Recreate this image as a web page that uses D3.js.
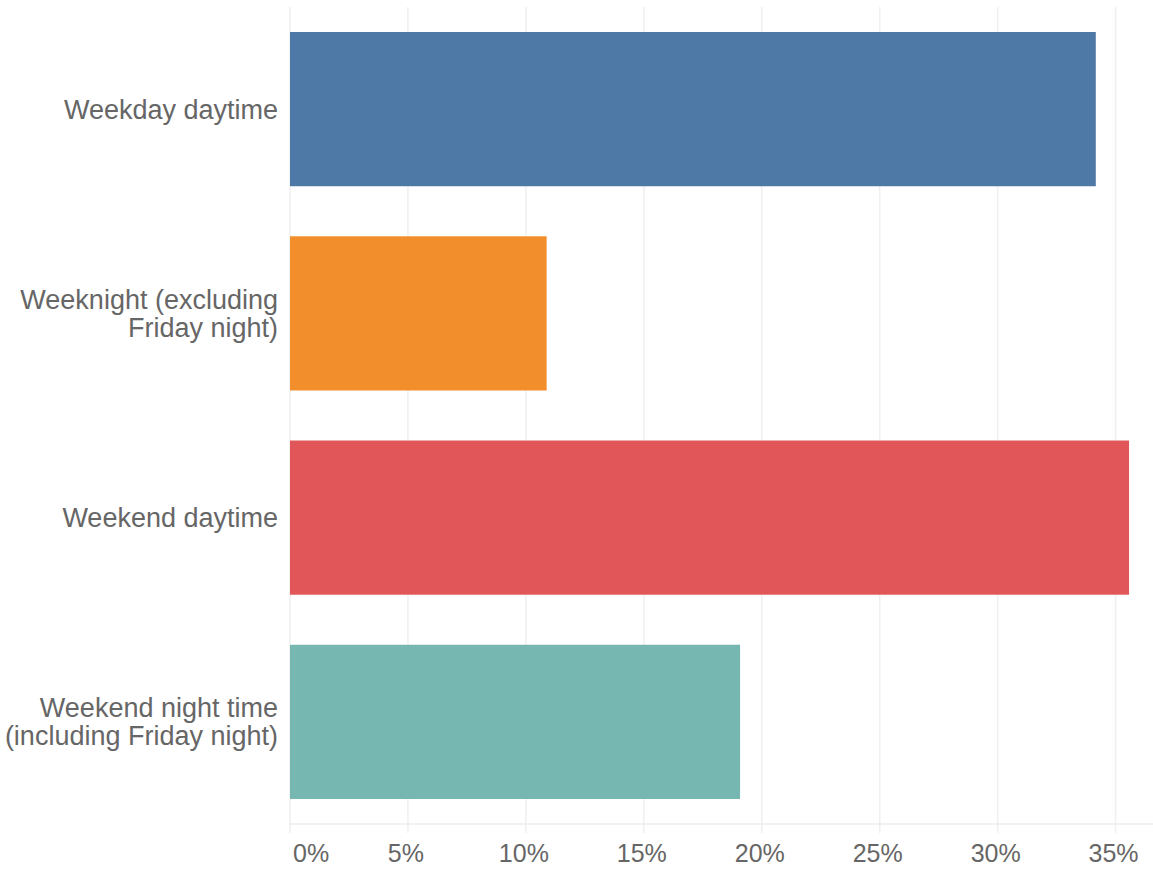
<!DOCTYPE html>
<html>
<head>
<meta charset="utf-8">
<script src="https://cdn.jsdelivr.net/npm/d3@7"></script>
<style>
  html, body { margin: 0; padding: 0; background: #ffffff; }
  svg { display: block; }
  text { font-family: "Liberation Sans", Arial, sans-serif; fill: #666666; }
</style>
</head>
<body>
<svg id="chart" width="1153" height="871"></svg>
<script>
// Share of time slots, in percent
const categories = [
  ["Weekday daytime"],
  ["Weeknight (excluding", "Friday night)"],
  ["Weekend daytime"],
  ["Weekend night time", "(including Friday night)"]
];
const values = [34.16, 10.88, 35.57, 19.08];
const colors = ["#4e79a7", "#f28e2b", "#e15759", "#76b7b2"];
const tickValues = [0, 5, 10, 15, 20, 25, 30, 35];

const svg = d3.select("#chart");
const chartW = 1153;
const plotLeft = 290, plotTop = 7, plotBottom = 824;

const x = d3.scaleLinear().domain([0, 35]).range([plotLeft, 1115.6]);
const y = d3.scaleBand()
  .domain(d3.range(categories.length))
  .range([plotTop, plotBottom])
  .paddingInner(0.245)
  .paddingOuter(0.1225);

// vertical gridlines (extending below the baseline as tick marks)
svg.append("g")
  .selectAll("line")
  .data(tickValues)
  .join("line")
  .attr("x1", d => x(d)).attr("x2", d => x(d))
  .attr("y1", plotTop).attr("y2", 833)
  .attr("stroke", "#efefef")
  .attr("stroke-width", 1.5);

// baseline
svg.append("line")
  .attr("x1", plotLeft).attr("x2", chartW)
  .attr("y1", plotBottom).attr("y2", plotBottom)
  .attr("stroke", "#ececec")
  .attr("stroke-width", 1.5);

// bars
svg.append("g")
  .selectAll("rect")
  .data(values)
  .join("rect")
  .attr("x", x(0))
  .attr("y", (d, i) => y(i))
  .attr("width", d => x(d) - x(0))
  .attr("height", y.bandwidth())
  .attr("fill", (d, i) => colors[i]);

// category labels
const lineH = 28;
svg.append("g")
  .selectAll("text")
  .data(categories)
  .join("text")
  .attr("text-anchor", "end")
  .attr("font-size", 27)
  .each(function (lines, i) {
    const cy = y(i) + y.bandwidth() / 2;
    const t = d3.select(this);
    lines.forEach((ln, k) => {
      t.append("tspan")
        .attr("x", plotLeft - 12)
        .attr("y", cy + (k - (lines.length - 1) / 2) * lineH)
        .attr("dy", "0.35em")
        .text(ln);
    });
  });

// x tick labels
svg.append("g")
  .selectAll("text")
  .data(tickValues)
  .join("text")
  .attr("font-size", 25)
  .attr("text-anchor", d => d === 0 ? "start" : "middle")
  .attr("x", d => d === 0 ? x(d) + 3 : x(d) - 2)
  .attr("y", 862)
  .text(d => d + "%");
</script>
</body>
</html>
